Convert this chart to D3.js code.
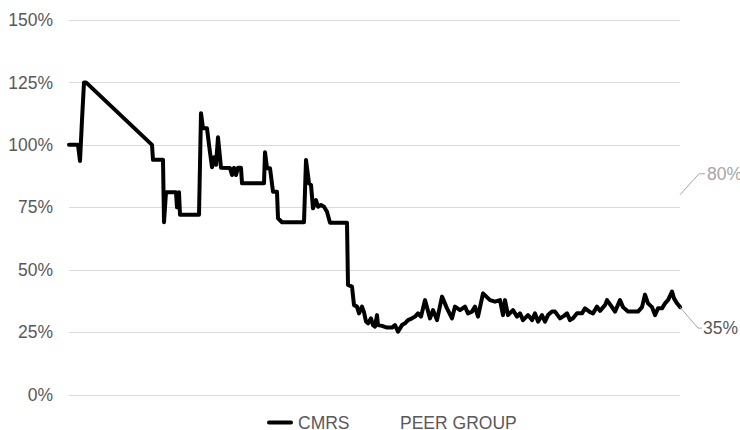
<!DOCTYPE html>
<html>
<head>
<meta charset="utf-8">
<script src="https://cdn.jsdelivr.net/npm/d3@7/dist/d3.min.js"></script>
<style>
  html, body { margin: 0; padding: 0; background: #fff; overflow: hidden; }
  svg { display: block; font-family: "Liberation Sans", Arial, sans-serif; }
</style>
</head>
<body>
<svg id="chart" width="740" height="430"></svg>
<script>
// ---- data ----
const yTicks = [0, 25, 50, 75, 100, 125, 150];
const days = [0,9,11,13,15,17,83,84,94,95,97,107,108,110,111,130,132,134,138,140,143,145,147,149,152,161,163,165,167,169,172,173,195,196,198,201,204,208,209,213,235,237,240,242,244,247,249,252,255,258,261,278,279,283,285,288,290,293,295,297,299,302,304,306,308,309,313,318,323,326,329,333,336,339,343,346,349,352,356,361,364,368,373,378,383,386,391,396,399,403,406,409,414,421,426,431,434,436,439,444,448,451,454,459,463,466,469,473,476,479,483,486,491,495,498,501,504,508,513,516,521,524,528,531,536,538,543,546,551,554,559,569,573,576,579,583,586,589,593,596,599,603,605,608,611];
const cmrs = [100,100,93.5,110,125,125,100,94,94,69,81,81,75,81,72,72,112.7,106.6,106.6,100,91,95,92,103,90.8,90.7,87.9,90.8,87.9,90.8,90.8,84.6,84.6,97,90.6,90.6,81.2,81.2,70.6,69,69,93.9,84.6,83.9,74.6,77.9,75.2,75.9,75.2,73.2,68.8,68.8,43.9,43.2,35.8,35.2,32.5,35.2,33,29.2,28.5,30.5,27.8,27.2,31.8,27.8,27.5,26.8,26.8,27.8,25.2,27.8,28.5,29.8,30.5,31.2,32.5,31.2,37.8,30.5,33.8,29.8,39.2,34.5,30.5,35.2,33.8,35.2,32.5,33.2,35.2,31.2,40.5,37.8,37.2,37.8,31.8,37.8,31.8,33.8,31.2,32.5,29.8,31.8,29.8,32.5,29.2,31.8,29.2,31.8,33.2,33.2,30.5,31.5,32.5,29.8,30.5,32.5,32.5,34.5,33,32.5,35.2,33.5,35.8,37.8,35,33.2,37.8,35,33.2,33.2,35,40,36.5,35,31.8,34.5,34.5,36.5,37.8,41.2,38.5,36.5,35];
const peerLastValue = 80;
const seriesNames = ["CMRS", "PEER GROUP"];

// ---- layout ----
const svg = d3.select("#chart");
const x = d3.scaleLinear().domain([0, 611]).range([69, 680]);
const y = d3.scaleLinear().domain([0, 150]).range([394.5, 20]);

// gridlines
svg.append("g").selectAll("line").data(yTicks).join("line")
  .attr("x1", x(0)).attr("x2", x(611))
  .attr("y1", d => Math.round(y(d)) + 0.5).attr("y2", d => Math.round(y(d)) + 0.5)
  .attr("stroke", "#d9d9d9").attr("stroke-width", 1);

// y axis labels
svg.append("g").selectAll("text").data(yTicks).join("text")
  .attr("x", 53).attr("y", d => y(d))
  .attr("dy", "0.35em").attr("text-anchor", "end")
  .attr("font-size", 17.5).attr("fill", "#595959")
  .text(d => d + "%");

// CMRS line
const pts = days.map((d, i) => [d, cmrs[i]]);
svg.append("path").datum(pts)
  .attr("fill", "none").attr("stroke", "#000").attr("stroke-width", 4)
  .attr("stroke-linejoin", "round").attr("stroke-linecap", "round")
  .attr("d", d3.line().x(d => x(d[0])).y(d => y(d[1])));

// end labels with leader lines
const lastDay = days[days.length - 1];
const cmrsLast = cmrs[cmrs.length - 1];
// CMRS 35%
const cx = x(lastDay), cy = y(cmrsLast);
svg.append("polyline")
  .attr("points", `${cx},${cy} ${cx + 18},${cy + 21} ${cx + 22},${cy + 21}`)
  .attr("fill", "none").attr("stroke", "#a6a6a6").attr("stroke-width", 1);
svg.append("text").attr("x", cx + 23).attr("y", cy + 21).attr("dy", "0.35em")
  .attr("font-size", 17.5).attr("fill", "#595959").text(Math.round(cmrsLast) + "%");
// Peer 80%
const px = x(lastDay), py = y(peerLastValue);
svg.append("polyline")
  .attr("points", `${px},${py} ${px + 19},${py - 21} ${px + 25},${py - 21}`)
  .attr("fill", "none").attr("stroke", "#a6a6a6").attr("stroke-width", 1);
svg.append("text").attr("x", px + 27).attr("y", py - 21).attr("dy", "0.35em")
  .attr("font-size", 17.5).attr("fill", "#a6a6a6").text(peerLastValue + "%");

// legend
const lg = svg.append("g");
lg.append("line").attr("x1", 269).attr("x2", 291).attr("y1", 422.5).attr("y2", 422.5)
  .attr("stroke", "#000").attr("stroke-width", 4).attr("stroke-linecap", "round");
lg.append("text").attr("x", 298).attr("y", 422.5).attr("dy", "0.35em")
  .attr("font-size", 17.5).attr("fill", "#595959").text(seriesNames[0]);
lg.append("text").attr("x", 400).attr("y", 422.5).attr("dy", "0.35em")
  .attr("font-size", 17.5).attr("fill", "#595959").text(seriesNames[1]);
</script>
</body>
</html>
